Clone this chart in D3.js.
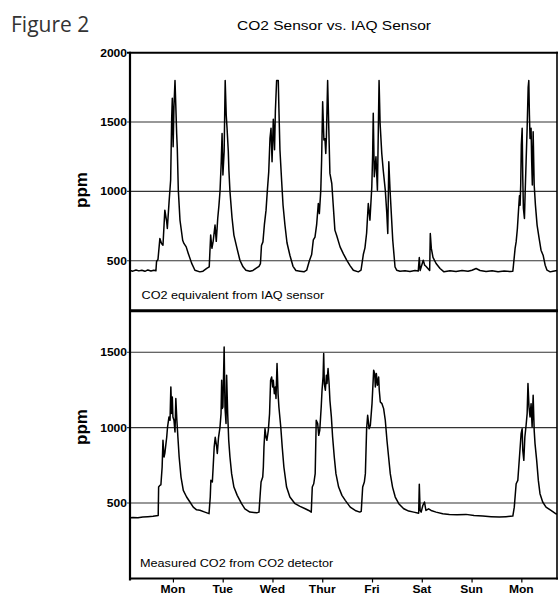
<!DOCTYPE html>
<html>
<head>
<meta charset="utf-8">
<script src="https://cdn.jsdelivr.net/npm/d3@7"></script>
<style>
  html, body { margin: 0; padding: 0; background: #fff; }
  svg { display: block; }
</style>
</head>
<body>
<svg id="chart" width="559" height="596"></svg>
<script>
// ---------------- DATA ----------------
const figureLabel = "Figure 2";
const chartTitle = "CO2 Sensor vs. IAQ Sensor";
const yLabel = "ppm";
const dayTicks = [0, 24, 48, 72, 96, 120, 144, 168];          // hours
const dayLabels = ["Mon", "Tue", "Wed", "Thur", "Fri", "Sat", "Sun", "Mon"];
const timeDomain = [-20.7, 185.2];                              // hours
const topTicks = [500, 1000, 1500, 2000];
const bottomTicks = [500, 1000, 1500];
const topDomain = [140, 2000];
const bottomDomain = [0, 1775];
const topCaption = "CO2 equivalent from IAQ sensor";
const bottomCaption = "Measured CO2 from CO2 detector";

// [hour, ppm] CO2 equivalent from IAQ sensor
const iaqSeries = [
[-20.7,430],[-19.3,425],[-17.8,433],[-16.4,427],[-15.0,432],[-13.5,424],[-12.1,434],[-10.6,426],[-9.2,431],[-8.2,428],
[-7.9,495],[-7.2,510],[-6.3,660],[-5.5,625],[-4.8,612],[-3.9,865],[-3.0,780],[-2.7,733],[-1.8,937],[-1.1,1082],
[-0.6,1527],[-0.3,1671],[0.1,1322],[0.5,1610],[1.0,1800],[1.4,1610],[1.8,1418],[2.1,1312],[2.6,1009],[3.4,793],
[4.7,648],[5.3,625],[6.4,600],[7.4,553],[9.0,483],[10.6,432],[13.0,420],[14.5,425],[16.3,445],[17.5,456],
[18.2,685],[18.8,590],[19.4,640],[20.3,757],[20.9,640],[21.6,805],[22.2,901],[22.7,1000],[23.3,1214],[23.7,1418],
[24.1,1118],[24.7,1290],[25.2,1800],[25.7,1550],[26.1,1455],[26.7,1290],[27.0,1150],[27.5,1000],[28.5,810],[29.4,685],
[30.9,589],[32.3,504],[33.8,456],[35.2,432],[37.1,425],[38.6,430],[40.0,445],[41.5,460],[42.2,480],[42.7,610],
[43.4,636],[44.1,760],[44.9,865],[45.5,1000],[46.2,1141],[46.8,1382],[47.3,1455],[47.8,1214],[48.4,1520],[49.0,1300],
[49.4,1580],[50.0,1800],[50.8,1800],[51.1,1600],[51.6,1300],[52.4,1080],[53.1,900],[54.0,760],[55.0,630],[56.4,540],
[57.9,460],[59.3,430],[61.3,425],[63.2,420],[64.5,432],[65.8,500],[66.9,545],[67.7,650],[68.5,670],[69.3,760],
[70.1,913],[70.6,840],[71.3,1009],[71.7,1226],[72.2,1647],[72.8,1370],[73.3,1380],[73.7,1274],[74.0,1390],[74.6,1800],
[75.1,1490],[75.7,1130],[76.6,1057],[77.3,900],[78.1,721],[79.0,680],[80.6,600],[82.2,550],[83.8,504],[85.4,465],
[87.0,432],[89.4,420],[90.7,432],[91.8,545],[92.6,593],[93.4,700],[94.2,913],[95.0,793],[95.9,1033],[96.3,1262],
[96.6,1563],[97.1,1106],[97.9,1250],[98.6,1009],[99.4,1800],[99.9,1490],[100.7,1274],[101.4,1154],[102.4,1009],[103.1,850],
[103.6,697],[104.1,1214],[104.7,1009],[106.0,648],[107.1,455],[107.9,432],[109.5,425],[111.9,428],[114.3,423],[116.7,430],
[118.3,426],[118.8,524],[119.2,430],[120.7,504],[121.4,468],[122.0,460],[123.8,430],[124.1,697],[124.6,589],[125.4,525],
[126.9,480],[128.8,444],[130.7,420],[133.6,428],[136.5,422],[139.4,430],[142.3,424],[144.2,432],[146.2,444],[148.1,430],
[151.0,423],[153.9,428],[156.8,420],[159.7,426],[162.6,422],[163.9,425],[164.2,468],[165.0,589],[165.5,636],[166.1,733],
[166.6,853],[167.1,968],[167.4,901],[167.7,1046],[168.0,1334],[168.4,1455],[168.7,1094],[169.0,877],[169.5,805],[169.8,968],
[170.3,1214],[170.8,1455],[171.3,1750],[171.6,1800],[171.9,1550],[172.2,1382],[172.7,1455],[173.0,1214],[173.3,1046],[173.7,1430],
[174.2,1046],[174.8,901],[175.6,757],[176.6,660],[177.5,576],[178.5,540],[179.5,468],[180.4,432],[181.9,420],[183.3,425],
[185.2,430]
];

// [hour, ppm] measured CO2 from CO2 detector
const co2Series = [
[-20.7,403],[-19.3,405],[-16.9,402],[-14.5,408],[-12.1,410],[-9.6,412],[-7.1,418],[-6.9,606],[-6.3,617],[-5.8,621],
[-5.2,739],[-4.8,916],[-4.3,805],[-3.9,829],[-3.0,936],[-2.6,1004],[-1.9,1071],[-1.4,1049],[-1.0,1270],[-0.6,1093],
[-0.3,1203],[0.0,1071],[0.5,1049],[1.0,971],[1.4,1193],[1.9,1049],[2.4,936],[3.0,805],[3.9,672],[5.0,584],
[6.6,540],[8.2,507],[9.8,473],[11.4,455],[13.0,452],[15.4,440],[17.4,430],[18.0,540],[18.3,651],[19.0,640],
[19.4,739],[19.9,872],[20.4,936],[21.1,872],[21.4,829],[22.0,936],[22.7,1004],[23.2,1093],[23.5,1314],[23.8,1127],
[24.1,1137],[24.7,1535],[25.1,1137],[25.6,1027],[25.9,1347],[26.4,1093],[26.9,916],[27.5,805],[28.3,695],[29.4,606],
[31.0,551],[33.1,496],[34.7,462],[37.1,440],[40.4,435],[41.5,440],[42.1,562],[42.5,640],[43.3,672],[43.6,739],
[43.9,872],[44.4,994],[44.9,936],[45.3,916],[46.0,982],[46.6,1093],[47.1,1314],[47.6,1336],[48.1,1270],[48.4,1314],
[48.9,1225],[49.4,1270],[49.7,1193],[50.2,1425],[50.7,1225],[51.1,1137],[52.0,1004],[52.7,872],[53.5,739],[54.8,606],
[56.4,540],[58.9,496],[61.3,478],[63.8,462],[65.5,451],[66.7,440],[67.2,606],[67.9,628],[68.6,695],[69.1,1049],
[69.8,1027],[70.3,949],[70.8,982],[71.5,1137],[71.9,1248],[72.4,1336],[72.7,1491],[73.0,1292],[73.5,1248],[74.0,1347],
[74.3,1292],[74.8,1392],[75.3,1292],[75.7,1181],[76.4,1071],[77.0,938],[77.8,805],[78.6,695],[79.9,606],[81.5,551],
[83.1,518],[85.5,473],[87.9,451],[90.1,440],[90.8,445],[91.5,606],[92.3,639],[92.8,695],[93.4,993],[93.9,1082],
[94.6,993],[95.2,1016],[96.0,1159],[96.8,1381],[97.3,1358],[97.6,1270],[98.1,1358],[98.6,1281],[99.2,1336],[99.5,1248],
[100.0,1170],[100.8,1159],[101.6,1126],[102.4,1049],[103.2,916],[104.0,805],[104.8,695],[105.9,606],[107.2,540],[108.9,496],
[111.3,462],[113.7,447],[116.1,440],[118.5,433],[118.8,625],[119.2,451],[119.7,440],[120.5,484],[121.3,507],[122.0,451],
[123.3,462],[124.5,451],[126.9,440],[130.1,429],[133.3,425],[137.0,422],[141.3,425],[145.2,418],[149.4,414],[153.4,410],
[157.4,407],[160.6,410],[163.9,414],[164.6,473],[165.5,628],[166.3,650],[167.1,805],[167.9,960],[168.4,993],[168.7,849],
[169.2,783],[169.7,938],[170.3,1016],[170.8,1093],[171.2,1292],[171.7,1137],[172.2,1071],[172.7,1159],[173.2,1004],[173.7,1214],
[174.2,982],[174.6,894],[175.4,783],[176.2,650],[177.0,562],[178.3,507],[179.9,473],[182.3,451],[184.7,429],[185.2,428]
];

// ---------------- LAYOUT ----------------
const svg = d3.select("#chart");
const L = 130, R = 557;
const topY0 = 52.7, midY = 310.7, botY1 = 578.5;
const SX = 1.15; // horizontal stretch of the original lettering
const FONT = "'Liberation Sans', Arial, Helvetica, sans-serif";

const x = d3.scaleLinear().domain(timeDomain).range([L, R]);
const yTop = d3.scaleLinear().domain(topDomain).range([midY, topY0]);
const yBot = d3.scaleLinear().domain(bottomDomain).range([botY1, midY]);

function stretchedText(g, tx, ty, str, opts) {
  return g.append("text")
    .attr("transform", `translate(${tx},${ty}) scale(${opts.sx || SX},1)`)
    .attr("text-anchor", opts.anchor || "start")
    .attr("font-family", opts.family || FONT)
    .attr("font-size", opts.size)
    .attr("font-weight", opts.weight || "normal")
    .attr("fill", opts.fill || "#000")
    .text(str);
}

// Figure label and title
svg.append("text")
  .attr("x", 11).attr("y", 32)
  .attr("font-family", "'Open Sans', 'Noto Sans', sans-serif")
  .attr("font-size", 21)
  .attr("fill", "#333")
  .text(figureLabel);
stretchedText(svg, 334, 30, chartTitle, {anchor: "middle", size: 13.5});

// Gridlines
function grid(yScale, ticks) {
  svg.append("g").selectAll("line").data(ticks).join("line")
    .attr("x1", L - 3).attr("x2", R)
    .attr("y1", d => yScale(d)).attr("y2", d => yScale(d))
    .attr("stroke", "#333").attr("stroke-width", 1.1);
}
grid(yTop, topTicks.filter(d => d < 2000));
grid(yBot, bottomTicks);

// Y tick labels
function yLabels(yScale, ticks) {
  const g = svg.append("g");
  ticks.forEach(t => {
    stretchedText(g, L - 3, yScale(t) + 4, String(t), {anchor: "end", size: 10.5, weight: "bold"});
  });
}
yLabels(yTop, topTicks);
yLabels(yBot, bottomTicks);

// ppm labels
[190, 427].forEach(yy => {
  svg.append("text")
    .attr("transform", `translate(87,${yy}) rotate(-90)`)
    .attr("text-anchor", "middle")
    .attr("font-family", FONT)
    .attr("font-size", 17)
    .attr("font-weight", "bold")
    .text(yLabel);
});

// Lines
const lineTop = d3.line().x(d => x(d[0])).y(d => yTop(d[1]));
const lineBot = d3.line().x(d => x(d[0])).y(d => yBot(d[1]));
svg.append("path").datum(iaqSeries)
  .attr("d", lineTop).attr("fill", "none")
  .attr("stroke", "#000").attr("stroke-width", 1.5).attr("stroke-linejoin", "round");
svg.append("path").datum(co2Series)
  .attr("d", lineBot).attr("fill", "none")
  .attr("stroke", "#000").attr("stroke-width", 1.5).attr("stroke-linejoin", "round");

// Frames
svg.append("line").attr("x1", L - 3).attr("x2", R + 1).attr("y1", topY0).attr("y2", topY0)
  .attr("stroke", "#000").attr("stroke-width", 2);
svg.append("line").attr("x1", L).attr("x2", R + 1).attr("y1", midY).attr("y2", midY)
  .attr("stroke", "#000").attr("stroke-width", 3);
svg.append("line").attr("x1", L).attr("x2", R + 1).attr("y1", botY1).attr("y2", botY1)
  .attr("stroke", "#000").attr("stroke-width", 2);
svg.append("line").attr("x1", L).attr("x2", L).attr("y1", topY0 - 1).attr("y2", botY1 + 2)
  .attr("stroke", "#000").attr("stroke-width", 2.2);
svg.append("line").attr("x1", R).attr("x2", R).attr("y1", topY0 - 1).attr("y2", botY1 + 1)
  .attr("stroke", "#000").attr("stroke-width", 1.6);

// Captions
stretchedText(svg, 141.5, 299, topCaption, {size: 11});
stretchedText(svg, 140, 567, bottomCaption, {size: 11});

// X axis
const xAxis = d3.axisBottom(x).tickValues(dayTicks).tickSize(4).tickFormat("");
const gx = svg.append("g").attr("transform", `translate(0,${botY1})`).call(xAxis);
gx.select(".domain").remove();
gx.selectAll(".tick line").attr("stroke", "#000").attr("stroke-width", 1.2);
dayTicks.forEach((t, i) => {
  stretchedText(svg, x(t), 593, dayLabels[i], {anchor: "middle", size: 10.5, weight: "bold"});
});
</script>
</body>
</html>
